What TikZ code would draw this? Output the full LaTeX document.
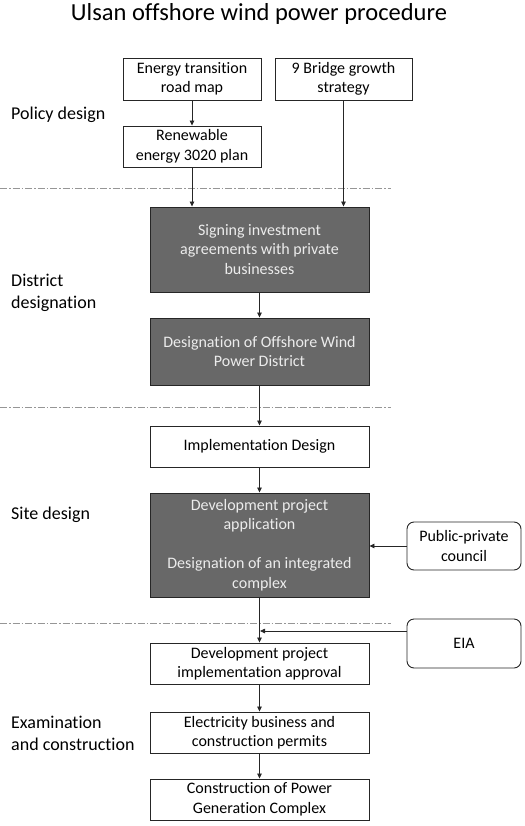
\documentclass[tikz,border=0pt]{standalone}
\usepackage{fontspec}
\setmainfont{Carlito}[Ligatures={NoCommon,NoRequired}]
\usetikzlibrary{arrows.meta}
\definecolor{darkbox}{RGB}{104,104,104}
\definecolor{lighttext}{RGB}{236,236,236}
\definecolor{sepline}{RGB}{150,150,150}
\begin{document}
\begin{tikzpicture}[x=1pt,y=-1pt,
  box/.style={draw=black!85, line width=0.9pt, fill=white, inner sep=0pt, align=center,
    font=\fontsize{16}{19.5}\selectfont},
  darkbox/.style={box, fill=darkbox, text=lighttext},
  sidebox/.style={box, rounded corners=7pt},
  phase/.style={anchor=west, align=left, inner sep=0pt, font=\fontsize{18}{22}\selectfont},
  arr/.style={-{Triangle[length=5pt,width=4.5pt]}, line width=0.8pt, draw=black!85},
  sep/.style={draw=sepline, line width=0.8pt, dash pattern=on 7pt off 2pt on 1.5pt off 2pt}
]
\useasboundingbox (0,0) rectangle (524,826);
% title
\node[font=\fontsize{24.5}{27}\selectfont, inner sep=0pt] (title) at (259,14) {Ulsan offshore wind power procedure};
% separators
\coordinate (s1a) at (0,188); \coordinate (s1b) at (391,188);
\coordinate (s2a) at (0,407); \coordinate (s2b) at (391,407);
\coordinate (s3a) at (0,623); \coordinate (s3b) at (391,623);
\draw[sep] (s1a) -- (s1b);
\draw[sep] (s2a) -- (s2b);
\draw[sep] (s3a) -- (s3b);
% phase labels
\node[phase] (p1) at (11,115) {Policy design};
\node[phase] (p2) at (11,293) {District\\designation};
\node[phase] (p3) at (11,515) {Site design};
\node[phase] (p4) at (11,733) {Examination\\and construction};
% boxes
\node[box, minimum width=138pt, minimum height=42pt] (etr) at (192,79) {Energy transition\\road map};
\node[box, minimum width=137pt, minimum height=42pt] (bridge) at (343.5,79) {9 Bridge growth\\strategy};
\node[box, minimum width=138pt, minimum height=41pt] (ren) at (192,146.5) {Renewable\\energy 3020 plan};
\node[darkbox, minimum width=219pt, minimum height=85pt] (sign) at (259.5,249.5) {Signing investment\\agreements with private\\businesses};
\node[darkbox, minimum width=219pt, minimum height=67pt] (desig) at (259.5,351.5) {Designation of Offshore Wind\\Power District};
\node[box, minimum width=219pt, minimum height=41pt] (impl) at (259.5,446.5) {Implementation Design};
\node[darkbox, minimum width=219pt, minimum height=104pt] (dev) at (259.5,545) {Development project\\application\\[19.5pt]Designation of an integrated\\complex};
\node[sidebox, minimum width=114pt, minimum height=48pt] (ppc) at (464,546) {Public-private\\council};
\node[sidebox, minimum width=114pt, minimum height=49pt] (eia) at (464,643.5) {EIA};
\node[box, minimum width=219pt, minimum height=41pt] (appr) at (259.5,663.5) {Development project\\implementation approval};
\node[box, minimum width=219pt, minimum height=41pt] (elec) at (259.5,732.5) {Electricity business and\\construction permits};
\node[box, minimum width=219pt, minimum height=41pt] (cons) at (259.5,799.5) {Construction of Power\\Generation Complex};
% connectors
\draw[arr] (etr) -- (ren);
\draw[arr] (ren.south) -- (ren.south |- sign.north);
\draw[arr] (bridge.south) -- (bridge.south |- sign.north);
\draw[arr] (sign) -- (desig);
\draw[arr] (desig) -- (impl);
\draw[arr] (impl) -- (dev);
\draw[arr] (ppc.west) -- (ppc.west -| dev.east);
\draw[arr] (dev) -- (appr);
\coordinate (eiajoin) at (260,631);
\draw[arr] (eiajoin -| eia.west) -- (eiajoin);
\draw[arr] (appr) -- (elec);
\draw[arr] (elec) -- (cons);
\end{tikzpicture}
\end{document}
